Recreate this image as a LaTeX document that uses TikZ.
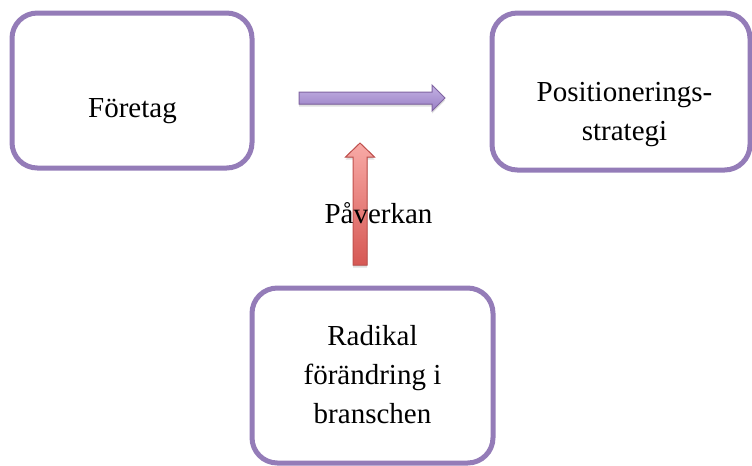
\documentclass[tikz,border=0pt]{standalone}
\usepackage{fontspec}
\setmainfont{Liberation Serif}
\usepackage{tikz}
\usetikzlibrary{calc,shadows}
\definecolor{boxline}{RGB}{148,124,184}
\definecolor{purpleline}{RGB}{128,100,162}
\definecolor{purplelight}{RGB}{196,178,228}
\definecolor{purpledark}{RGB}{152,126,196}
\definecolor{redline}{RGB}{192,80,77}
\definecolor{redlight}{RGB}{248,170,166}
\definecolor{reddark}{RGB}{214,88,84}

\begin{document}
\begin{tikzpicture}[x=0.75pt,y=-0.75pt,
  box/.style={draw=boxline, line width=3.75pt, rounded corners=19pt, fill=white},
  txt/.style={font=\fontsize{21.75}{28.9}\selectfont, align=center, anchor=base, inner sep=0pt},
  shade/.style={drop shadow={opacity=0.25, shadow xshift=0pt, shadow yshift=-2pt}}]
\useasboundingbox (0,0) rectangle (752,465);

% boxes
\node[box, minimum width=180pt, minimum height=116.25pt] (F) at (132,90.5) {};
\node[box, minimum width=193.5pt, minimum height=117.75pt] (P) at (621,91.5) {};
\node[box, minimum width=180.75pt, minimum height=131.25pt] (R) at (372.5,375.5) {};

% anchor=base sits on the last line
\node[txt] (Ft) at (132.5,117) {Företag};
\node[txt] (Pt) at (624.5,140) {Positionerings-\\strategi};
\node[txt] (Rt) at (372.5,423) {Radikal\\förändring i\\branschen};

% arrows
\coordinate (pa1) at (299,98);
\coordinate (pa2) at (445,98);
\coordinate (ra1) at (360,265);
\coordinate (ra2) at (360,143);

\filldraw[draw=purpleline, line width=0.75pt, top color=purplelight, bottom color=purpledark, shade]
  ($(pa1)+(0,-6)$) -- ($(pa2)+(-13,-6)$) -- ($(pa2)+(-13,-13)$) -- (pa2)
  -- ($(pa2)+(-13,13)$) -- ($(pa2)+(-13,6)$) -- ($(pa1)+(0,6)$) -- cycle;

\filldraw[draw=redline, line width=0.75pt, top color=redlight, bottom color=reddark, shade]
  ($(ra1)+(-7,0)$) -- ($(ra2)+(-7,14)$) -- ($(ra2)+(-14.5,14)$) -- (ra2)
  -- ($(ra2)+(14.5,14)$) -- ($(ra2)+(7,14)$) -- ($(ra1)+(7,0)$) -- cycle;

\node[txt] (V) at (378.5,223) {Påverkan};

\end{tikzpicture}
\end{document}
